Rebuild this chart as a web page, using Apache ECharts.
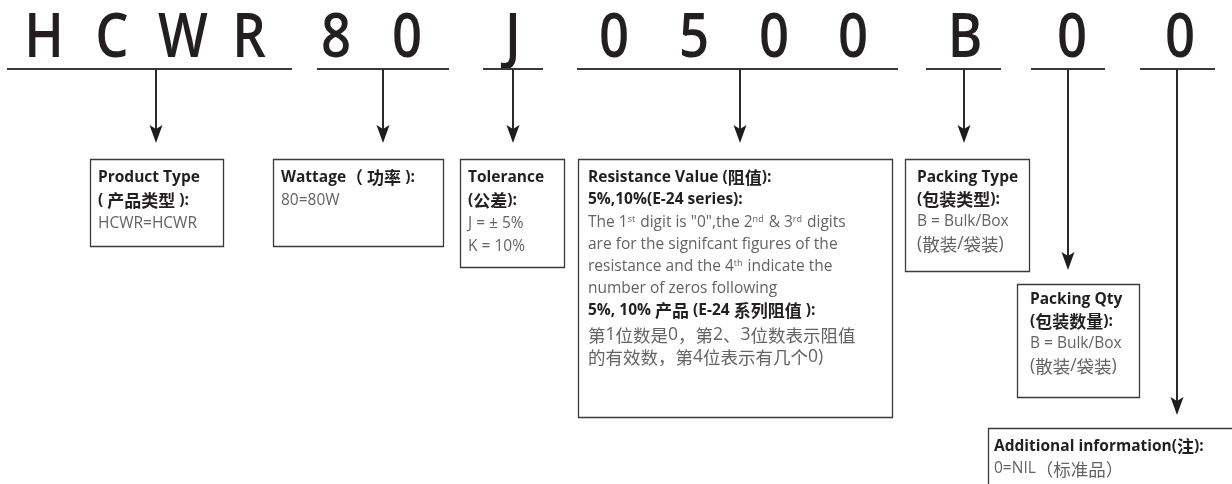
<!DOCTYPE html>
<html><head><meta charset="utf-8">
<script src="https://cdn.jsdelivr.net/npm/echarts@6/dist/echarts.min.js"></script>
<style>html,body{margin:0;padding:0;background:#fff}#c{width:1232px;height:484px}</style>
</head><body><div id="c"></div>
<script>
// ---- content (data) ----
const codeLetters = ['H','C','W','R','8','0','J','0','5','0','0','B','0','0'];
const groupLetterIdx = [[0,1,2,3],[4,5],[6],[7,8,9,10],[11],[12],[13]];
const boxLines = [
  [{t:'Product Type',b:1},{t:'( 产品类型 ):',b:1},{t:'HCWR=HCWR',b:0}],
  [{t:'Wattage（ 功率 ):',b:1},{t:'80=80W',b:0}],
  [{t:'Tolerance',b:1},{t:'(公差):',b:1},{t:'J = ± 5%',b:0},{t:'K = 10%',b:0}],
  [{t:'Resistance Value (阻值):',b:1},{t:'5%,10%(E-24 series):',b:1},
   {t:'The 1{s|st} digit is "0",the 2{s|nd} & 3{s|rd} digits',b:0},
   {t:'are for the signifcant figures of the',b:0},
   {t:'resistance and the 4{s|th} indicate the',b:0},
   {t:'number of zeros following',b:0},
   {t:'5%, 10% 产品 (E-24 系列阻值 ):',b:1},
   {t:'第1位数是0，第2、3位数表示阻值',b:0,big:1},
   {t:'的有效数，第4位表示有几个0)',b:0,big:1}],
  [{t:'Packing Type',b:1},{t:'(包装类型):',b:1},{t:'B = Bulk/Box',b:0},{t:'(散装/袋装)',b:0,big:1}],
  [{t:'Packing Qty',b:1},{t:'(包装数量):',b:1},{t:'B = Bulk/Box',b:0},{t:'(散装/袋装)',b:0,big:1}],
  [{t:'Additional information(注):',b:1},{t:'0=NIL（标准品）',b:0}]
];

// ---- layout (positions in chart units) ----
const letterX = [44,112,183,249,336,407,513,614,694,774,853,965,1072,1180];
const letterY = 39;
const ruleY = 69;
const ruleSpans = [[7,292],[317,449],[483,543],[577,898],[926,1001],[1031,1105],[1140,1215]];
const arrowX = [156,383,513,740,964,1068,1177];
const arrowTip = [143,143,143,143,143,270,415];
const boxRect = [[90,159,223,246],[273,159,443,246],[460,159,564,267],[578,159,892,417],
                 [905,159,1029,271],[1017,284,1139,397],[988,428,1240,500]];
const textX = [98,281,468,588,917,1030,994];
const textYs = [
  [178,201,224],[178,201],[178,201,224,247],
  [178,200,223,245,267,289,311,335,357],
  [178,200,222,244],[300,322,344,366],[447,469]
];

const FONT = "'Open Sans','Noto Sans CJK SC',sans-serif";
const CJKFONT = "'Noto Sans CJK SC','Open Sans',sans-serif";
const INK = '#231f20';
const GRAY = '#626366';
const BASE = 15.5, CJK = 17.5, BIG = 17.5;

// convert a line into rich text: CJK runs get a larger face
function richify(str, bold) {
  const parts = [];
  const re = /\{s\|([^}]*)\}/g;
  let last = 0, m;
  const plain = s => s.replace(/([\u3000-\u303f\u4e00-\u9fff\uff00-\uffef]+)/g, (x) => '{' + (bold ? 'cb' : 'c') + '|' + x + '}');
  while ((m = re.exec(str))) {
    parts.push(plain(str.slice(last, m.index)));
    parts.push('{s|' + m[1] + '}');
    last = re.lastIndex;
  }
  parts.push(plain(str.slice(last)));
  return parts.join('');
}

function renderItem(params, api) {
  const i = api.value(0);
  const P = (x, y) => api.coord([x, y]);
  const ch = [];
  groupLetterIdx[i].forEach(k => {
    const p = P(letterX[k], letterY);
    ch.push({type:'text', x:p[0], y:p[1], scaleX:0.85, scaleY:1,
      style:{text:codeLetters[k], x:0, y:0, align:'center', verticalAlign:'middle',
      font:'600 62px ' + FONT, fill:INK}});
  });
  const a = P(ruleSpans[i][0], ruleY), b = P(ruleSpans[i][1], ruleY);
  ch.push({type:'line', shape:{x1:a[0], y1:a[1], x2:b[0], y2:b[1]}, style:{stroke:'#3a3a3a', lineWidth:2}});
  const t0 = P(arrowX[i], ruleY), tip = P(arrowX[i], arrowTip[i]);
  ch.push({type:'line', shape:{x1:t0[0], y1:t0[1], x2:tip[0], y2:tip[1]-10}, style:{stroke:'#2a2a2a', lineWidth:2}});
  ch.push({type:'polygon', shape:{points:[[tip[0]-6.5, tip[1]-18],[tip[0], tip[1]-14],[tip[0]+6.5, tip[1]-18],[tip[0], tip[1]]]},
    style:{fill:'#1e1e1e'}});
  const r = boxRect[i]; const r0 = P(r[0], r[1]), r1 = P(r[2], r[3]);
  ch.push({type:'rect', shape:{x:r0[0]+0.5, y:r0[1]+0.5, width:r1[0]-r0[0], height:r1[1]-r0[1]},
    style:{fill:'#fff', stroke:'#3a3a3a', lineWidth:1.3}});
  boxLines[i].forEach((ln, j) => {
    const p = P(textX[i], textYs[i][j]);
    const fill = ln.b ? INK : GRAY;
    const w = ln.b ? 700 : 400;
    const size = ln.big ? BIG : BASE;
    ch.push({type:'text', style:{
      text: richify(ln.t, ln.b), x:p[0], y:p[1], align:'left', verticalAlign:'middle',
      fontFamily: FONT, fontSize: size, fontWeight: w, fill: fill,
      rich:{
        s:{fontSize:9, fontFamily:FONT, fill:GRAY, verticalAlign:'top', padding:[0,1,8,0]},
        c:{fontSize:CJK, fontFamily:CJKFONT, fontWeight:400, fill:fill},
        cb:{fontSize:CJK - 0.5, fontFamily:CJKFONT, fontWeight:700, fill:fill}
      }}});
  });
  return {type:'group', children:ch};
}

const chart = echarts.init(document.getElementById('c'), null, {renderer:'canvas'});
chart.setOption({
  animation:false,
  backgroundColor:'#fff',
  grid:{left:0, right:0, top:0, bottom:0},
  xAxis:{type:'value', min:0, max:1232, show:false},
  yAxis:{type:'value', min:0, max:484, inverse:true, show:false},
  series:[{type:'custom', renderItem:renderItem, clip:false,
    data: boxLines.map((_, i) => [i])}]
});
</script></body></html>
